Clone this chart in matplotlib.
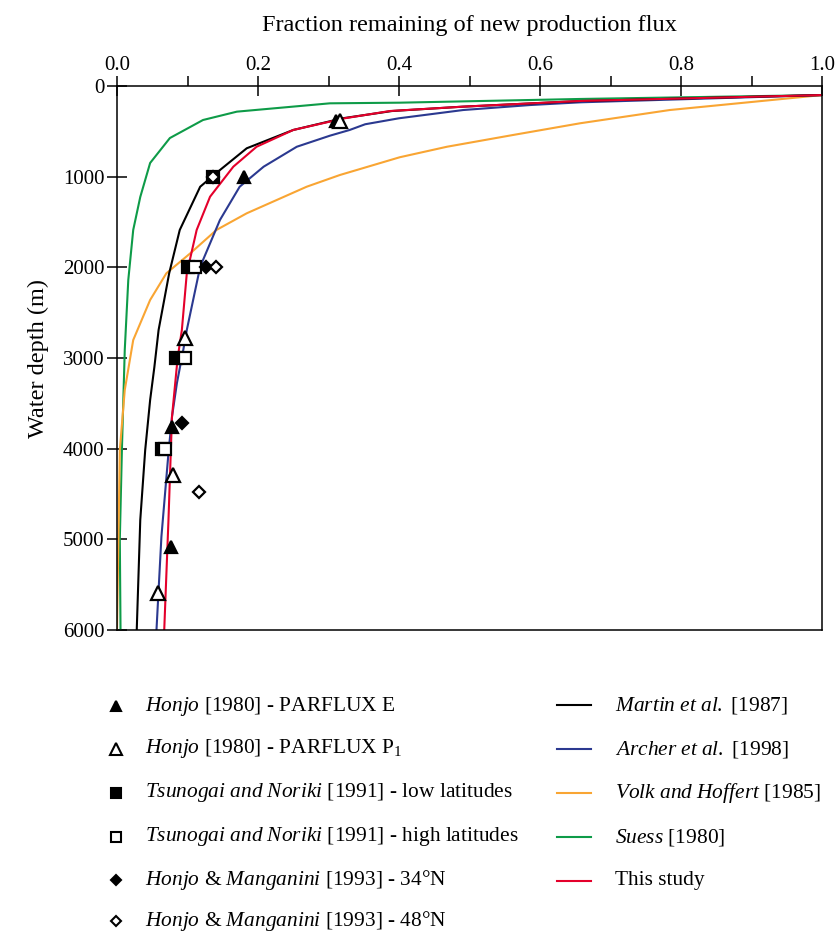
import numpy as np
import matplotlib.pyplot as plt
from matplotlib.lines import Line2D

plt.rcParams['font.family'] = ['Liberation Serif', 'DejaVu Serif']
plt.rcParams['mathtext.fontset'] = 'custom'
plt.rcParams['mathtext.rm'] = 'Liberation Serif'
plt.rcParams['mathtext.it'] = 'Liberation Serif:italic'

# model curves: fraction remaining vs depth (m)
martin_x = [1.0, 0.66, 0.49, 0.39, 0.32, 0.25, 0.184, 0.146, 0.118, 0.089, 0.074, 0.059, 0.053, 0.047, 0.040, 0.033, 0.028]
martin_z = [100, 165, 228, 276, 356, 485, 687, 927, 1111, 1588, 2066, 2691, 3100, 3463, 4015, 4787, 6000]

archer_x = [1.0, 0.657, 0.586, 0.491, 0.40, 0.352, 0.33, 0.302, 0.255, 0.208, 0.174, 0.146, 0.118, 0.099, 0.094, 0.085, 0.078, 0.073, 0.063, 0.056]
archer_z = [100, 180, 210, 265, 356, 422, 485, 548, 670, 890, 1111, 1478, 1993, 2691, 2912, 3276, 3648, 4048, 4971, 6000]

volk_x = [1.0, 0.784, 0.657, 0.562, 0.468, 0.401, 0.316, 0.269, 0.184, 0.141, 0.104, 0.070, 0.047, 0.023, 0.011, 0.004, 0.002, 0.0]
volk_z = [100, 265, 411, 540, 670, 786, 982, 1111, 1404, 1588, 1845, 2066, 2360, 2802, 3353, 4015, 5000, 6000]

suess_x = [1.0, 0.657, 0.401, 0.302, 0.170, 0.122, 0.075, 0.047, 0.033, 0.023, 0.016, 0.011, 0.007, 0.004, 0.005]
suess_z = [100, 143, 184, 191, 283, 375, 574, 849, 1224, 1588, 2140, 2912, 4000, 5000, 6000]

study_x = [1.0, 0.657, 0.491, 0.387, 0.323, 0.250, 0.198, 0.165, 0.132, 0.113, 0.099, 0.092, 0.086, 0.078, 0.073, 0.067]
study_z = [100, 165, 228, 276, 356, 485, 670, 890, 1221, 1588, 2066, 2691, 3000, 3648, 4787, 6000]

# trap data
honjo_e_x = [0.31, 0.18, 0.078, 0.077]
honjo_e_z = [390, 1000, 3760, 5080]
honjo_p_x = [0.316, 0.096, 0.079, 0.058]
honjo_p_z = [383, 2780, 4290, 5590]
tsu_low_x = [0.136, 0.101, 0.084, 0.064]
tsu_low_z = [1000, 2000, 3000, 4000]
tsu_high_x = [0.111, 0.096, 0.068]
tsu_high_z = [2000, 3000, 4000]
hm34_x = [0.126, 0.092]
hm34_z = [2000, 3720]
hm48_x = [0.136, 0.140, 0.117]
hm48_z = [1000, 2000, 4475]

fig = plt.figure(figsize=(8.36, 9.41), dpi=100)
ax = fig.add_axes([117/836, 1 - 630/941, 705/836, 544/941])

lw = 1.5
ax.plot(suess_x, suess_z, color='#0e9b48', lw=lw)
ax.plot(volk_x, volk_z, color='#f9a533', lw=lw)
ax.plot(archer_x, archer_z, color='#2b3990', lw=lw)
ax.plot(martin_x, martin_z, color='black', lw=lw)
ax.plot(study_x, study_z, color='#e4002b', lw=lw)

mk = dict(ls='none', color='black', mew=1.6, zorder=5)
ax.plot(honjo_e_x, honjo_e_z, marker='^', ms=8.5, **mk)
ax.plot(honjo_p_x, honjo_p_z, marker='^', ms=10, mfc='white', **mk)
ax.plot(tsu_low_x, tsu_low_z, marker='s', ms=9, **mk)
ax.plot(tsu_high_x, tsu_high_z, marker='s', ms=9, mfc='white', **mk)
ax.plot(hm34_x, hm34_z, marker='D', ms=6, **mk)
ax.plot(hm48_x, hm48_z, marker='D', ms=6.5, mfc='white', **mk)

ax.set_xlim(0, 1.0)
ax.set_ylim(6000, 0)
ax.xaxis.tick_top()
ax.xaxis.set_label_position('top')
ax.set_xticks(np.arange(0, 1.01, 0.2))
ax.set_xticks(np.arange(0.1, 1.0, 0.2), minor=True)
ax.set_xticklabels(['0.0', '0.2', '0.4', '0.6', '0.8', '1.0'])
ax.set_yticks(range(0, 6001, 1000))
ax.tick_params(axis='x', which='major', direction='inout', length=14, width=1.1, labelsize=15, pad=1)
ax.tick_params(axis='x', which='minor', direction='out', length=7, width=1.1)
ax.tick_params(axis='y', direction='inout', length=14, width=1.1, labelsize=15, pad=2)
for s in ax.spines.values():
    s.set_linewidth(1.1)
ax.set_xlabel('Fraction remaining of new production flux', fontsize=17.5, labelpad=18)
ax.set_ylabel('Water depth (m)', fontsize=17.5, labelpad=10)

# legend, drawn by hand in two columns
W, H = 836, 941
fs = 15.4
left = [
    ('^', 'black', r'$\mathit{Honjo}$ [1980] - PARFLUX E', 706, 7),
    ('^', 'white', r'$\mathit{Honjo}$ [1980] - PARFLUX P$_\mathrm{1}$', 749, 8),
    ('s', 'black', r'$\mathit{Tsunogai\ and\ Noriki}$ [1991] - low latitudes', 793, 7.5),
    ('s', 'white', r'$\mathit{Tsunogai\ and\ Noriki}$ [1991] - high latitudes', 837, 7.5),
    ('D', 'black', r'$\mathit{Honjo}$ & $\mathit{Manganini}$ [1993] - 34°N', 880, 5),
    ('D', 'white', r'$\mathit{Honjo}$ & $\mathit{Manganini}$ [1993] - 48°N', 921, 5.5),
]
for m, fc, lab, y, ms in left:
    fig.add_artist(Line2D([116/W], [1 - y/H], transform=fig.transFigure, marker=m, ms=ms,
                          mfc=fc, mec='black', mew=1.5, ls='none'))
    fig.text(145/W, 1 - y/H, lab, fontsize=fs, va='center', ha='left')

right = [
    ('black', r'$\mathit{Martin\ et\ al.}$ [1987]', 705),
    ('#2b3990', r'$\mathit{Archer\ et\ al.}$ [1998]', 749),
    ('#f9a533', r'$\mathit{Volk\ and\ Hoffert}$ [1985]', 793),
    ('#0e9b48', r'$\mathit{Suess}$ [1980]', 837),
    ('#e4002b', 'This study', 881),
]
for c, lab, y in right:
    fig.add_artist(Line2D([557/W, 591/W], [1 - y/H, 1 - y/H], transform=fig.transFigure,
                          color=c, lw=1.5))
    fig.text(615/W, 1 - y/H, lab, fontsize=fs, va='center', ha='left')

fig.savefig('out.png', dpi=100)
